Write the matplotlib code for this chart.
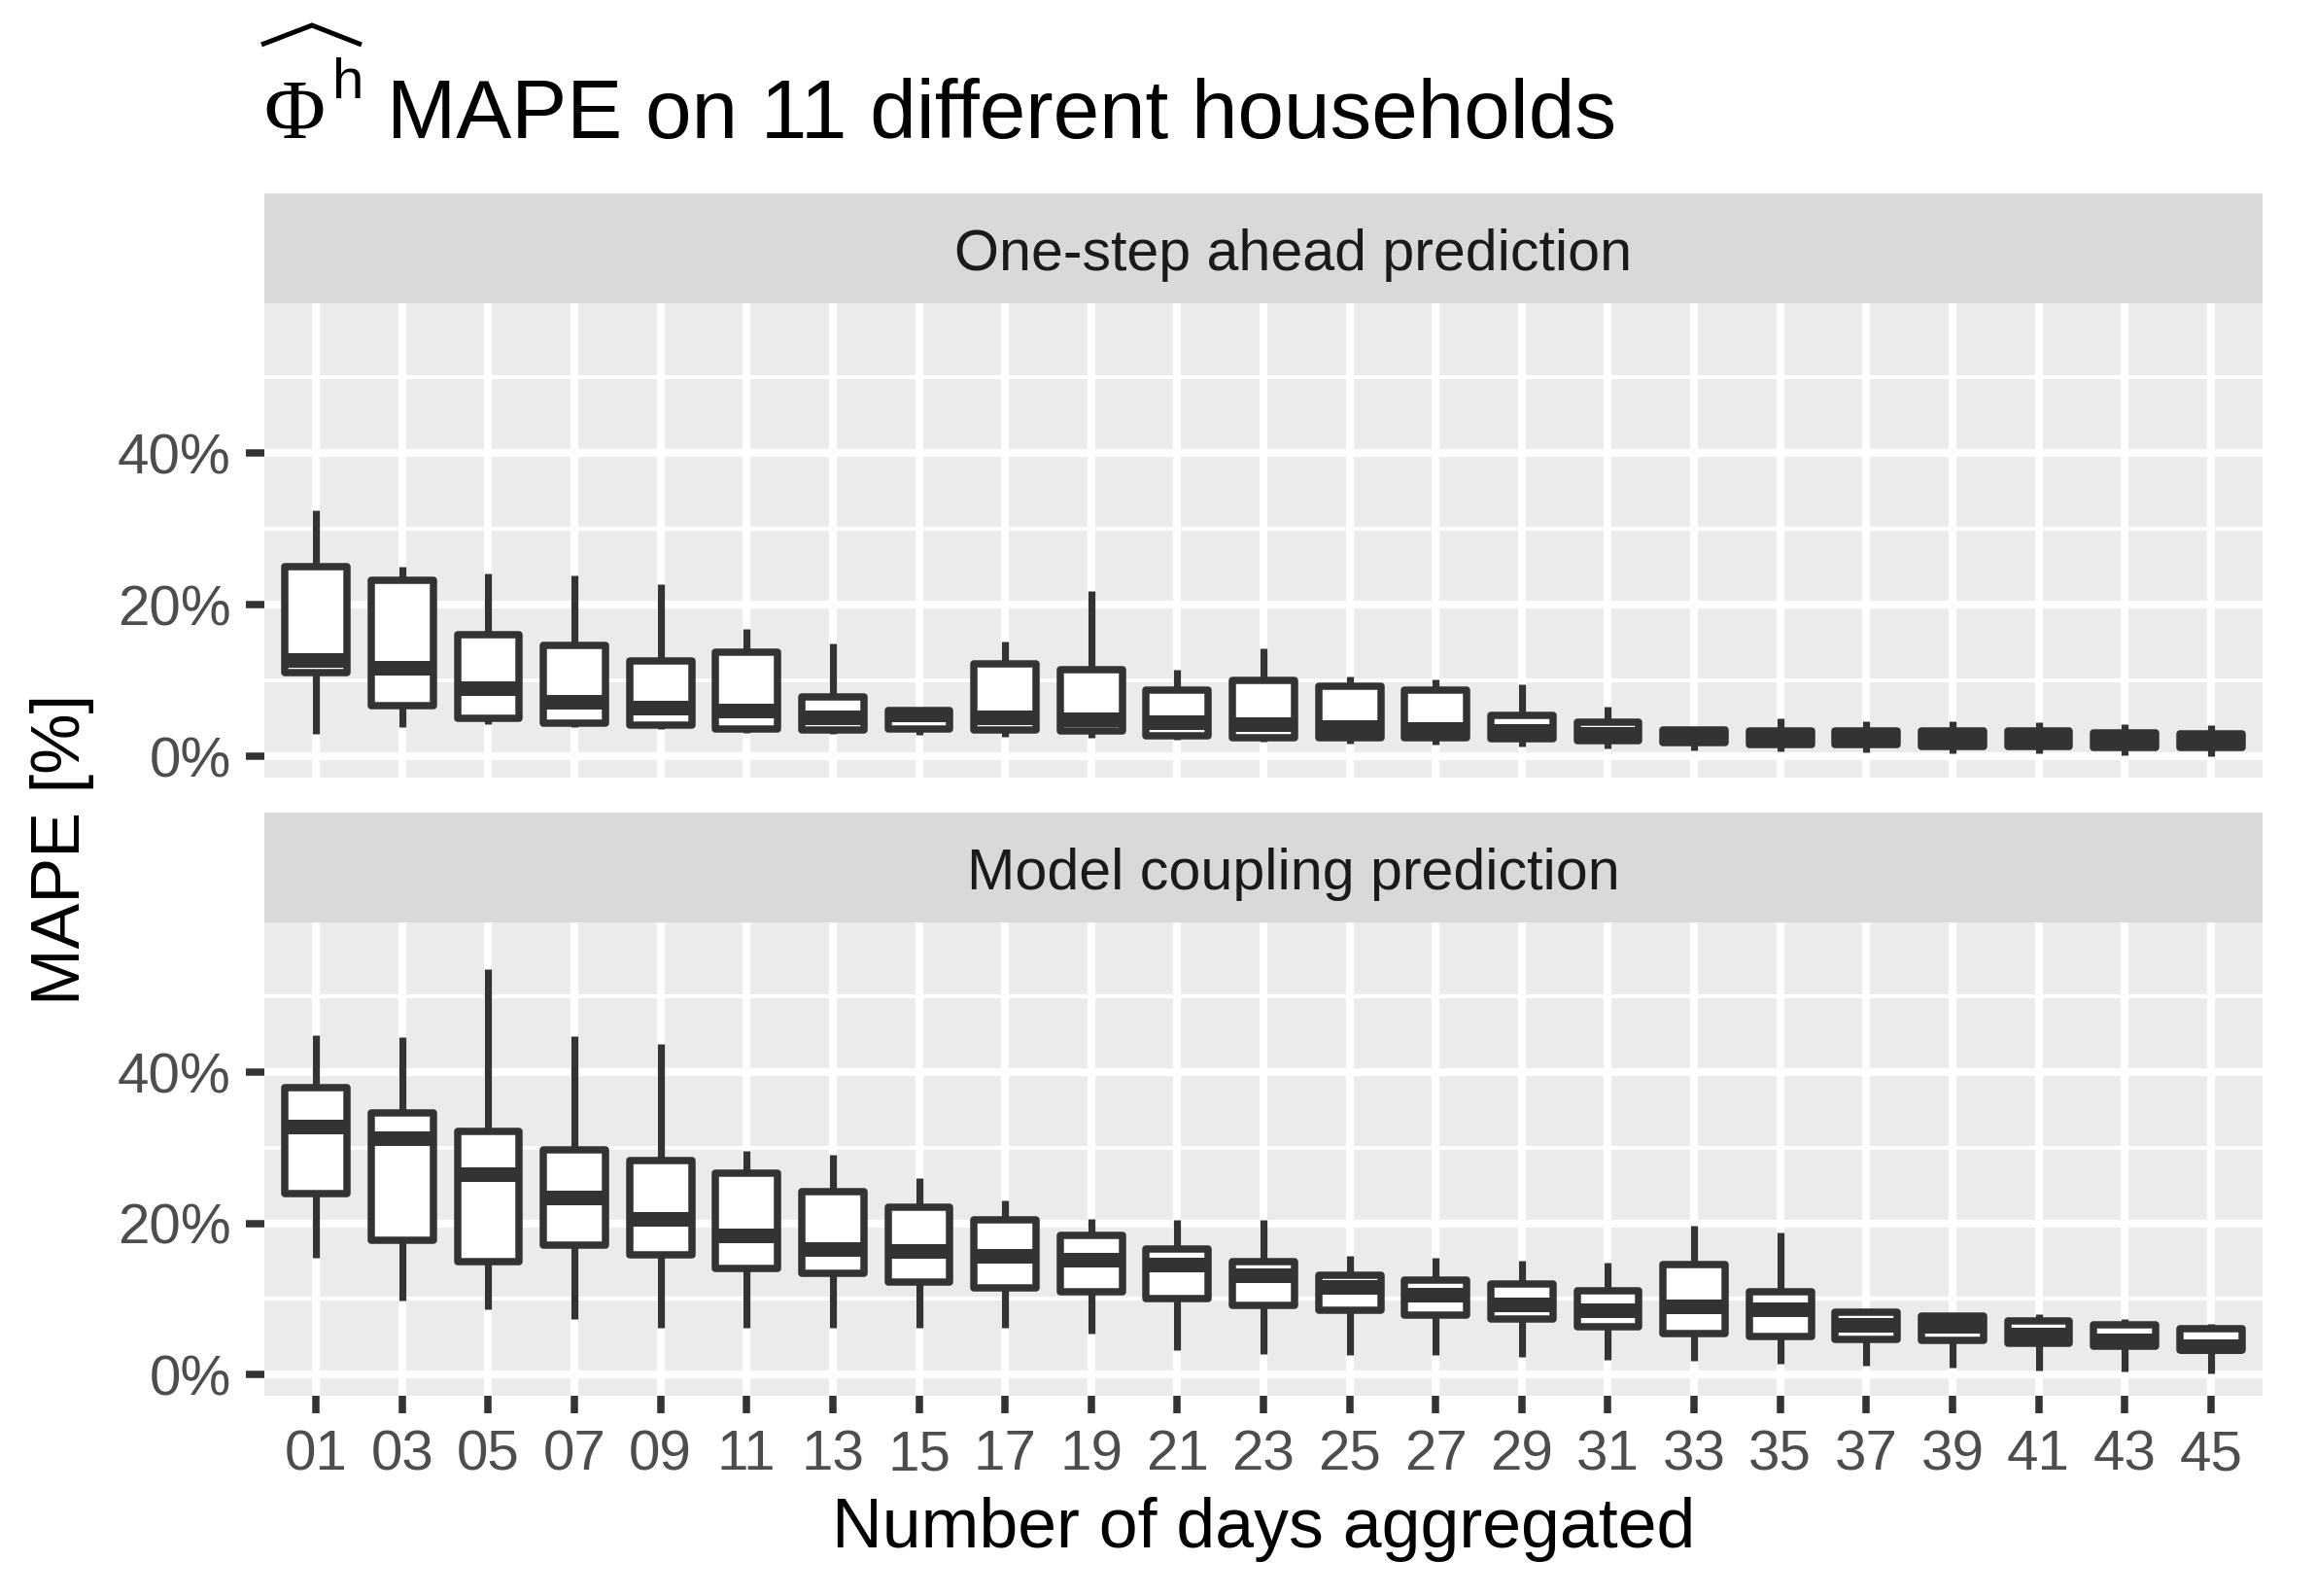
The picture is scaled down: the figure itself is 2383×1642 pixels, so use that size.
import matplotlib
matplotlib.use('Agg')
import matplotlib.pyplot as plt
from matplotlib.lines import Line2D

plt.rcParams['font.family'] = ['Liberation Sans', 'DejaVu Sans']

# ---------------- data ----------------
days = ['01', '03', '05', '07', '09', '11', '13', '15', '17', '19', '21', '23',
        '25', '27', '29', '31', '33', '35', '37', '39', '41', '43', '45']

panel_titles = ['One-step ahead prediction', 'Model coupling prediction']

# One-step ahead prediction (MAPE %)
one_whislo = [3.0, 3.9, 4.3, 3.9, 3.6, 3.1, 3.0, 2.8, 2.6, 2.4, 2.2, 2.0,
              1.7, 1.5, 1.3, 1.0, 0.8, 0.6, 0.5, 0.4, 0.4, 0.1, 0.0]
one_q1 = [11.0, 6.7, 5.0, 4.4, 4.1, 3.6, 3.5, 3.6, 3.5, 3.3, 2.7, 2.5,
          2.4, 2.4, 2.3, 2.1, 1.8, 1.6, 1.5, 1.3, 1.3, 1.2, 1.2]
one_med = [12.7, 11.7, 9.0, 7.2, 6.5, 6.0, 5.2, 5.5, 5.2, 4.9, 4.5, 4.2,
           3.9, 3.6, 3.3, 3.0, 2.6, 2.5, 2.4, 2.3, 2.3, 2.0, 2.0]
one_q3 = [25.0, 23.2, 16.0, 14.6, 12.6, 13.7, 7.9, 6.0, 12.2, 11.4, 8.7, 10.0,
          9.3, 8.8, 5.4, 4.5, 3.5, 3.4, 3.3, 3.4, 3.4, 3.1, 3.0]
one_whishi = [32.5, 25.0, 24.2, 23.9, 22.7, 16.8, 14.9, 6.0, 15.1, 21.8, 11.4, 14.2,
              10.5, 10.2, 9.5, 6.6, 3.6, 5.0, 4.7, 4.6, 4.5, 4.2, 4.1]

# Model coupling prediction (MAPE %)
mc_whislo = [15.4, 9.8, 8.6, 7.3, 6.2, 6.2, 6.2, 6.2, 6.2, 5.4, 3.3, 2.7,
             2.6, 2.6, 2.4, 2.0, 1.8, 1.5, 1.2, 0.9, 0.6, 0.4, 0.1]
mc_q1 = [24.0, 17.8, 15.0, 17.1, 15.8, 14.1, 13.4, 12.3, 11.5, 10.9, 10.0, 9.1,
         8.5, 7.9, 7.3, 6.3, 5.4, 5.0, 4.7, 4.5, 4.2, 3.8, 3.2]
mc_med = [32.8, 31.2, 26.5, 23.4, 20.6, 18.4, 16.6, 16.3, 15.7, 15.2, 14.5, 13.1,
          11.6, 10.6, 9.3, 8.5, 9.0, 8.7, 6.6, 6.5, 5.3, 4.5, 3.7]
mc_q3 = [37.9, 34.6, 32.1, 29.7, 28.3, 26.7, 24.2, 22.2, 20.5, 18.4, 16.6, 15.0,
         13.1, 12.5, 12.0, 11.1, 14.6, 11.0, 8.3, 7.8, 7.1, 6.6, 6.1]
mc_whishi = [44.9, 44.6, 53.6, 44.7, 43.7, 29.6, 29.1, 26.0, 23.0, 20.6, 20.5, 20.5,
             15.7, 15.4, 15.1, 14.8, 19.7, 18.8, 8.3, 7.8, 8.0, 7.4, 6.7]

y_ticks = [0, 20, 40]
y_ticklabels = ['0%', '20%', '40%']
y_minor = [10, 30, 50]

# ---------------- figure ----------------
W, H = 2383, 1642
DPI = 200
fig = plt.figure(figsize=(W / DPI, H / DPI), dpi=DPI, facecolor='white')

DARK = '#333333'
left, right = 272 / W, 2328 / W


def fy(p):
    return 1 - p / H


panels = [
    dict(strip=(199, 312), panel=(312, 800)),
    dict(strip=(836, 949), panel=(949, 1436)),
]

series = [
    (one_whislo, one_q1, one_med, one_q3, one_whishi),
    (mc_whislo, mc_q1, mc_med, mc_q3, mc_whishi),
]

for i, (pan, ser, ttl) in enumerate(zip(panels, series, panel_titles)):
    st, sb = pan['strip']
    pt, pb = pan['panel']
    ax = fig.add_axes([left, fy(pb), right - left, (pb - pt) / H])
    sax = fig.add_axes([left, fy(sb), right - left, (sb - st) / H])

    sax.set_facecolor('#D9D9D9')
    sax.set_xticks([])
    sax.set_yticks([])
    for s in sax.spines.values():
        s.set_visible(False)
    sax.text(0.5 + 31 / (2328 - 272), 1 - 79 / (sb - st), ttl, ha='center',
             va='baseline', fontsize=21.3, color='#1A1A1A',
             transform=sax.transAxes)

    wlo, q1, med, q3, whi = ser
    stats = [dict(med=m, q1=a, q3=b, whislo=lo, whishi=hi, fliers=[])
             for lo, a, m, b, hi in zip(wlo, q1, med, q3, whi)]
    ax.set_facecolor('#EBEBEB')
    ax.bxp(stats, positions=list(range(len(days))), widths=0.72,
           patch_artist=True, showcaps=False, showfliers=False,
           manage_ticks=False,
           boxprops=dict(facecolor='white', edgecolor=DARK, linewidth=2.7,
                         joinstyle='round'),
           whiskerprops=dict(color=DARK, linewidth=2.6, solid_capstyle='butt'),
           medianprops=dict(color=DARK, linewidth=5.4, solid_capstyle='butt'))

    ax.set_xlim(-0.6, len(days) - 0.4)
    ax.set_ylim(-2.8, 59.8)
    ax.set_axisbelow(True)
    ax.set_xticks(list(range(len(days))))
    ax.set_yticks(y_ticks)
    ax.set_yticklabels(y_ticklabels)
    ax.set_yticks(y_minor, minor=True)
    ax.grid(which='major', color='white', linewidth=2.9)
    ax.grid(which='minor', axis='y', color='white', linewidth=1.45)
    for s in ax.spines.values():
        s.set_visible(False)
    ax.tick_params(axis='y', which='major', length=6.8, width=2.7, color=DARK,
                   labelcolor='#4D4D4D', labelsize=21, pad=5.5)
    ax.tick_params(axis='y', which='minor', length=0)
    if i == 0:
        ax.tick_params(axis='x', length=0, labelbottom=False)
    else:
        ax.set_xticklabels(days)
        ax.tick_params(axis='x', length=6.5, width=2.7, color=DARK,
                       labelcolor='#4D4D4D', labelsize=21, pad=5.8)

# ---------------- title: hat(Phi^h) MAPE on 11 different households ----------------
fig.text(271 / W, fy(142), '\u03A6', fontsize=31, ha='left', va='baseline',
         color='black', family=['Liberation Serif', 'DejaVu Serif'])
fig.text(342 / W, fy(101), 'h', fontsize=21, ha='left', va='baseline',
         color='black')
fig.add_artist(Line2D([269 / W, 321 / W, 372 / W], [fy(46), fy(26), fy(46)],
                      transform=fig.transFigure, color='black', linewidth=1.8,
                      solid_joinstyle='miter', solid_capstyle='butt'))
fig.text(398 / W, fy(142), 'MAPE on 11 different households',
         fontsize=30.8, ha='left', va='baseline', color='black')

fig.text(64 / W, fy(874), 'MAPE [%]', rotation=90, ha='center', va='center',
         fontsize=25.3, color='black')
fig.text(1300 / W, fy(1592), 'Number of days aggregated', ha='center',
         va='baseline', fontsize=25.8, color='black')

fig.savefig('out.png', dpi=DPI, facecolor='white')
